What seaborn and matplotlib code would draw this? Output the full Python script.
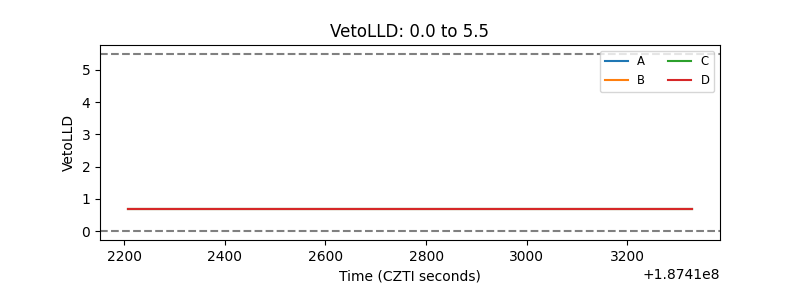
import matplotlib
matplotlib.use("Agg")
import matplotlib.pyplot as plt
import seaborn as sns
import pandas as pd
import numpy as np

offset = 187410000
times = [2208, 3328]
quadrants = ["A", "B", "C", "D"]
veto_a = [0.7, 0.7]
veto_b = [0.7, 0.7]
veto_c = [0.7, 0.7]
veto_d = [0.7, 0.7]
lower, upper = 0.0, 5.5

rows = []
for q, vals in zip(quadrants, [veto_a, veto_b, veto_c, veto_d]):
    for t, v in zip(times, vals):
        rows.append({"time": offset + t, "VetoLLD": v, "Quadrant": q})
df = pd.DataFrame(rows)

fig, ax = plt.subplots(figsize=(8, 3), dpi=100)
fig.subplots_adjust(left=0.125, right=0.9, top=0.85, bottom=0.2)
sns.lineplot(data=df, x="time", y="VetoLLD", hue="Quadrant",
             palette=["#1f77b4", "#ff7f0e", "#2ca02c", "#d62728"], ax=ax)
ax.axhline(lower, color="gray", linestyle="--")
ax.axhline(upper, color="gray", linestyle="--")
ax.set_xlabel("Time (CZTI seconds)")
ax.set_ylabel("VetoLLD")
ax.set_title("VetoLLD: 0.0 to 5.5")
ax.legend(ncol=2, fontsize="small", loc="upper right")
fig.savefig("out.png")
